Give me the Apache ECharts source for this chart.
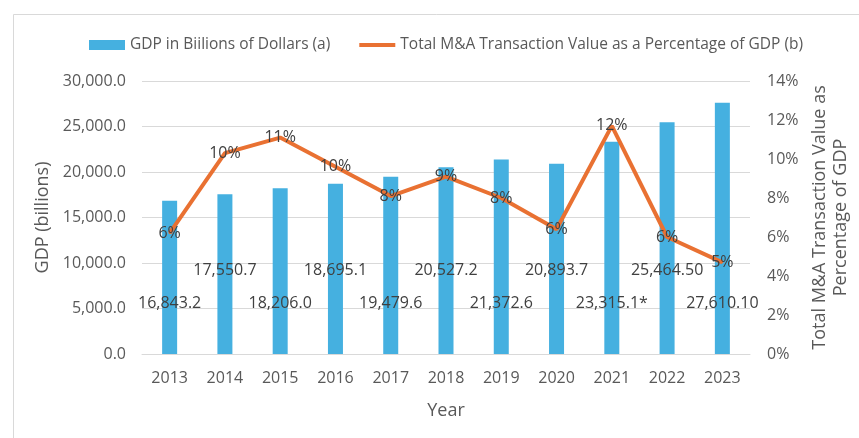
<!DOCTYPE html>
<html>
<head>
<meta charset="utf-8">
<script src="https://cdn.jsdelivr.net/npm/echarts@6/dist/echarts.min.js"></script>
<style>
    html, body { margin: 0; padding: 0; background: #fff; }
    #chart { width: 859px; height: 438px; }
</style>
</head>
<body>
<div id="chart"></div>
<script>
// data
var years = ['2013', '2014', '2015', '2016', '2017', '2018', '2019', '2020', '2021', '2022', '2023'];
var gdp = [16843.2, 17550.7, 18206.0, 18695.1, 19479.6, 20527.2, 21372.6, 20893.7, 23315.1, 25464.5, 27610.1];
var gdpLabels = ['16,843.2', '17,550.7', '18,206.0', '18,695.1', '19,479.6', '20,527.2', '21,372.6', '20,893.7', '23,315.1*', '25,464.50', '27,610.10'];
var maPct = [6.2, 10.3, 11.1, 9.6, 8.1, 9.1, 8.0, 6.4, 11.7, 6.0, 4.7];

var FONT = '"Open Sans", "Noto Sans", sans-serif';
var GREY = '#595959';
var ORANGE = '#e97132';

var myChart = echarts.init(document.getElementById('chart'));

var option = {
    backgroundColor: '#fff',
    textStyle: { fontFamily: FONT },
    graphic: [{
        type: 'rect',
        left: 11, top: 12,
        shape: { width: 900, height: 480 },
        style: { fill: 'none', stroke: '#d9d9d9', lineWidth: 1 },
        silent: true
    }],
    legend: {
        top: 32,
        left: 84,
        itemGap: 29,
        itemWidth: 36,
        itemHeight: 10,
        textStyle: { color: GREY, fontSize: 15.5, fontFamily: FONT },
        data: [
            { name: 'GDP in Biilions of Dollars (a)', icon: 'rect' },
            { name: 'Total M&A Transaction Value as a Percentage of GDP (b)', icon: 'path://M0,0 L36,0 L36,4 L0,4 Z' }
        ]
    },
    grid: { left: 142, right: 109, top: 81, bottom: 84, outerBoundsMode: 'none', containLabel: false },
    xAxis: {
        type: 'category',
        data: years,
        name: 'Year',
        nameLocation: 'middle',
        nameGap: 48,
        nameTextStyle: { color: GREY, fontSize: 18 },
        axisLine: { lineStyle: { color: '#d9d9d9', width: 1 } },
        axisTick: { show: false },
        axisLabel: { color: GREY, fontSize: 16, margin: 16 }
    },
    yAxis: [{
        type: 'value',
        min: 0, max: 30000, interval: 5000,
        name: 'GDP (billions)',
        nameLocation: 'middle',
        nameGap: 77,
        nameRotate: 90,
        nameTextStyle: { color: GREY, fontSize: 18 },
        axisLabel: {
            color: GREY, fontSize: 16, margin: 16,
            formatter: function (v) {
                return v.toLocaleString('en-US', { minimumFractionDigits: 1, maximumFractionDigits: 1 });
            }
        },
        splitLine: { lineStyle: { color: '#d9d9d9', width: 1 } },
        axisLine: { show: false },
        axisTick: { show: false }
    }, {
        type: 'value',
        min: 0, max: 14, interval: 2,
        name: 'Total M&A Transaction Value as\nPercentage of GDP',
        nameLocation: 'middle',
        nameGap: 55,
        nameRotate: 90,
        nameTextStyle: { color: GREY, fontSize: 18, lineHeight: 21 },
        axisLabel: { color: GREY, fontSize: 16, margin: 17, formatter: '{value}%' },
        splitLine: { show: false },
        axisLine: { show: false },
        axisTick: { show: false }
    }],
    series: [{
        name: 'GDP in Biilions of Dollars (a)',
        type: 'bar',
        yAxisIndex: 0,
        barWidth: 15,
        itemStyle: { color: '#45b0e0' },
        data: gdp.map(function (v, i) {
            return {
                value: v,
                label: {
                    show: true,
                    position: 'insideBottom',
                    distance: i % 2 ? 76 : 43,
                    color: '#404040',
                    fontSize: 16,
                    formatter: gdpLabels[i]
                }
            };
        }),
        z: 2
    }, {
        name: 'Total M&A Transaction Value as a Percentage of GDP (b)',
        type: 'line',
        yAxisIndex: 1,
        data: maPct,
        symbol: 'circle',
        symbolSize: 2,
        showSymbol: true,
        lineStyle: { color: ORANGE, width: 4 },
        itemStyle: { color: ORANGE },
        label: {
            show: true,
            position: 'inside',
            color: '#404040',
            fontSize: 16,
            formatter: function (p) { return Math.round(p.value) + '%'; }
        },
        labelLayout: { hideOverlap: false },
        z: 3
    }]
};

myChart.setOption(option);
window.addEventListener('resize', function () {
    myChart.resize();
});
</script>
</body>
</html>
